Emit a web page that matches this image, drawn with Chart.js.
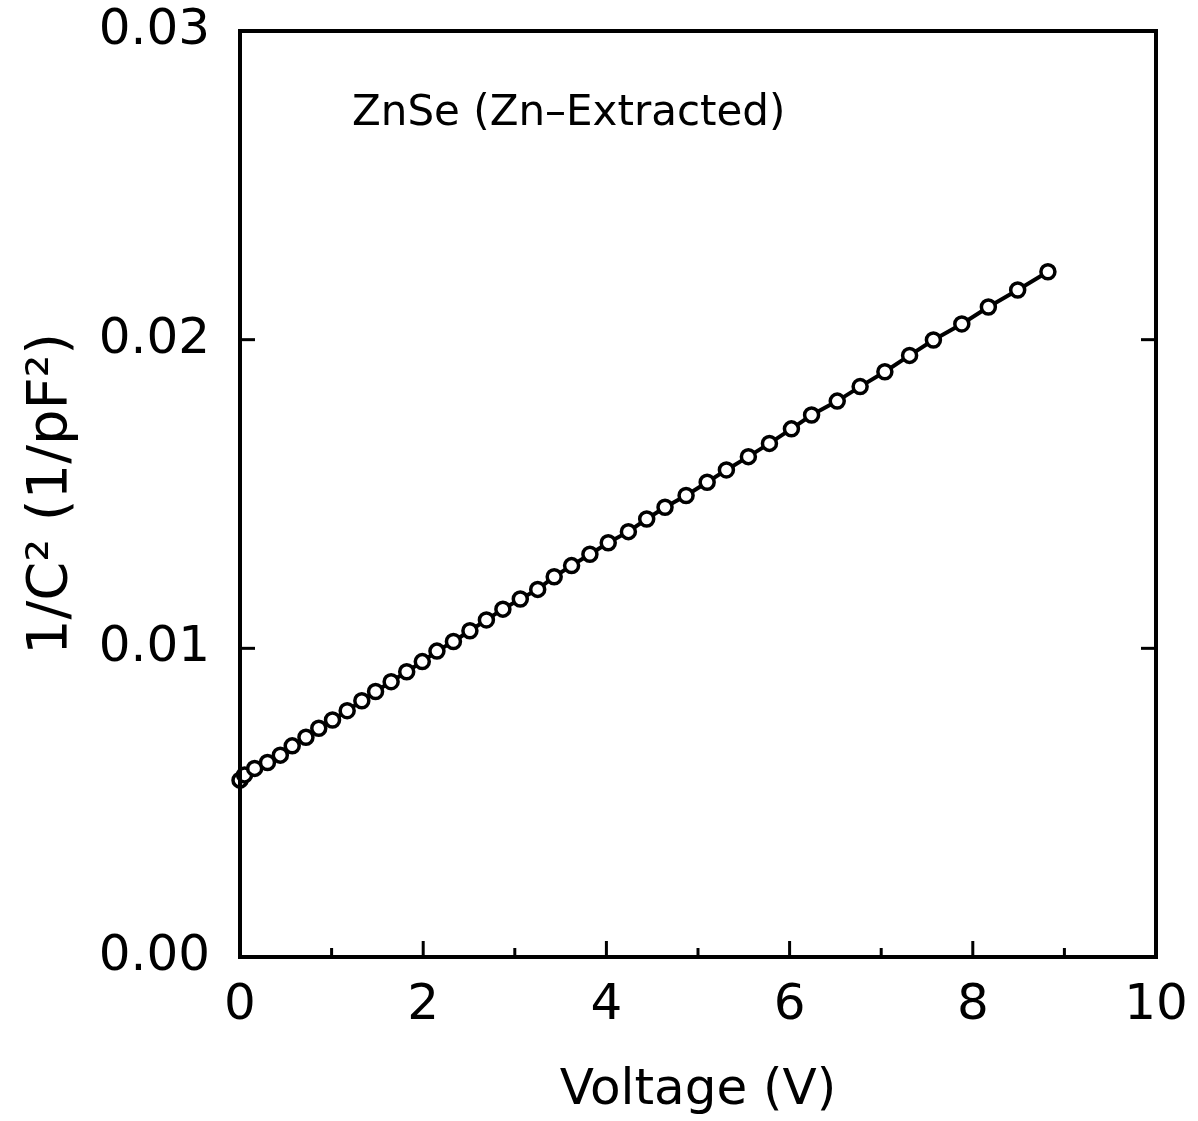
<!DOCTYPE html>
<html>
<head>
<meta charset="utf-8">
<title>ZnSe 1/C^2 vs V</title>
<script src="https://cdn.jsdelivr.net/npm/chart.js@4/dist/chart.umd.min.js"></script>
<style>
  html, body { margin: 0; padding: 0; background: #fff; }
  #wrap { width: 1198px; height: 1121px; position: relative; }
</style>
</head>
<body>
<div id="wrap"><canvas id="cv"></canvas></div>
<script>
// Du lieu doc tu hinh: 1/C^2 theo dien ap
const voltage = [
  0.00, 0.05, 0.16, 0.30, 0.44, 0.57, 0.72, 0.86, 1.01, 1.17,
  1.33, 1.48, 1.65, 1.82, 1.99, 2.15, 2.33, 2.51, 2.69, 2.87,
  3.06, 3.25, 3.43, 3.62, 3.82, 4.02, 4.24, 4.44, 4.64, 4.87,
  5.10, 5.31, 5.55, 5.78, 6.02, 6.24, 6.52, 6.77, 7.04, 7.31,
  7.57, 7.88, 8.17, 8.49, 8.82
];
const invCapSq = [
  0.00573, 0.00590, 0.00611, 0.00630, 0.00654, 0.00684, 0.00712, 0.00741, 0.00768, 0.00798,
  0.00830, 0.00860, 0.00892, 0.00924, 0.00957, 0.00991, 0.01022, 0.01057, 0.01092, 0.01127,
  0.01160, 0.01191, 0.01232, 0.01268, 0.01305, 0.01342, 0.01378, 0.01419, 0.01457, 0.01495,
  0.01538, 0.01578, 0.01621, 0.01664, 0.01711, 0.01756, 0.01801, 0.01848, 0.01896, 0.01949,
  0.01999, 0.02051, 0.02106, 0.02161, 0.02220
];
const xMajorTicks = [0, 2, 4, 6, 8, 10];
const xMinorTicks = [1, 3, 5, 7, 9];
const yTicks = [0, 0.01, 0.02, 0.03];
const annotation = 'ZnSe (Zn–Extracted)';

const FONT = "'DejaVu Sans', sans-serif";

// Khung + vach chia huong vao trong
const framePlugin = {
  id: 'frame',
  afterDraw(chart) {
    const { ctx, chartArea: a, scales: { x, y } } = chart;
    ctx.save();
    ctx.strokeStyle = '#000';
    ctx.lineCap = 'butt';
    ctx.lineWidth = 3;
    xMajorTicks.forEach(v => {
      const px = x.getPixelForValue(v);
      ctx.beginPath(); ctx.moveTo(px, a.bottom); ctx.lineTo(px, a.bottom - 16); ctx.stroke();
    });
    xMinorTicks.forEach(v => {
      const px = x.getPixelForValue(v);
      ctx.beginPath(); ctx.moveTo(px, a.bottom); ctx.lineTo(px, a.bottom - 9); ctx.stroke();
    });
    yTicks.forEach(v => {
      const py = y.getPixelForValue(v);
      ctx.beginPath(); ctx.moveTo(a.left, py); ctx.lineTo(a.left + 15, py); ctx.stroke();
      ctx.beginPath(); ctx.moveTo(a.right, py); ctx.lineTo(a.right - 15, py); ctx.stroke();
    });
    ctx.lineWidth = 4;
    ctx.strokeRect(a.left, a.top, a.right - a.left, a.bottom - a.top);

    ctx.fillStyle = '#000';
    ctx.font = '42px ' + FONT;
    ctx.textAlign = 'left';
    ctx.textBaseline = 'alphabetic';
    ctx.fillText(annotation, a.left + 112, a.top + 94);
    ctx.restore();
  }
};

new Chart(document.getElementById('cv'), {
  type: 'scatter',
  data: {
    datasets: [{
      data: voltage.map((v, i) => ({ x: v, y: invCapSq[i] })),
      showLine: true,
      borderColor: '#000',
      borderWidth: 4,
      pointStyle: 'circle',
      pointRadius: 7,
      pointBorderWidth: 3.5,
      pointBackgroundColor: '#fff',
      pointBorderColor: '#000',
      clip: false,
    }],
  },
  options: {
    responsive: true,
    maintainAspectRatio: false,
    animation: false,
    layout: { padding: { top: 31, right: 42, left: 0, bottom: 0 } },
    plugins: { legend: { display: false }, tooltip: { enabled: false } },
    scales: {
      x: {
        type: 'linear', min: 0, max: 10,
        afterFit: (s) => { s.height = 164; s.paddingLeft = 0; s.paddingRight = 0; },
        afterBuildTicks: (s) => { s.ticks = xMajorTicks.map(v => ({ value: v })); },
        grid: { display: false, drawTicks: false },
        border: { display: false },
        ticks: { color: '#000', padding: 19, font: { family: FONT, size: 50 } },
        title: {
          display: true, text: 'Voltage (V)', color: '#000',
          font: { family: FONT, size: 50 }, padding: { top: 0, bottom: 0 },
        },
      },
      y: {
        type: 'linear', min: 0, max: 0.03,
        afterFit: (s) => { s.width = 240; s.paddingTop = 0; s.paddingBottom = 0; },
        afterBuildTicks: (s) => { s.ticks = yTicks.map(v => ({ value: v })); },
        grid: { display: false, drawTicks: false },
        border: { display: false },
        ticks: {
          color: '#000', padding: 30, font: { family: FONT, size: 50 },
          callback: (v) => Number(v).toFixed(2),
        },
        title: {
          display: true, text: '1/C² (1/pF²)', color: '#000',
          font: { family: FONT, size: 56 }, padding: { top: 18, bottom: 0 },
        },
      },
    },
  },
  plugins: [framePlugin],
});
</script>
</body>
</html>
